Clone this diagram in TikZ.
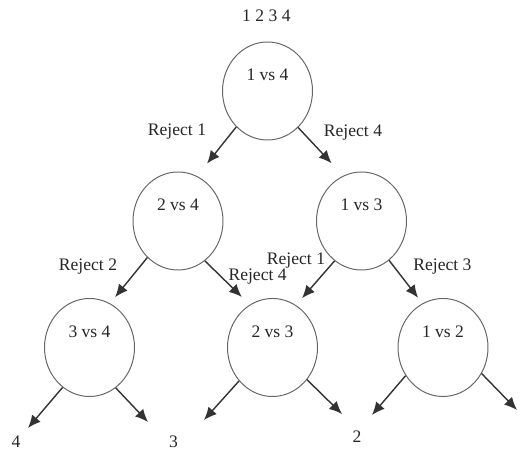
\documentclass[tikz,border=0pt]{standalone}
\usepackage{fontspec}
\setmainfont{Liberation Serif}
\usetikzlibrary{shapes.geometric,arrows.meta}

\begin{document}
\begin{tikzpicture}[
    font=\fontsize{12.5}{15}\selectfont,
    test/.style={ellipse, draw=black!60, line width=0.7pt, minimum width=2.25cm,
        minimum height=2.45cm, text depth=0.8cm, text=black!85},
    branch/.style={-{Latex[length=3.2mm,width=2.8mm]}, draw=black!80, line width=1pt},
    tag/.style={text=black!85}
]
\useasboundingbox (0,0) rectangle (13.125,11.3);

% elimination tree
\node[tag] (items) at (6.66,10.9) {1 2 3 4};
\node[test] (a) at (6.6875,9.025) {1 vs 4};
\node[test] (b) at (4.45,5.775) {2 vs 4};
\node[test] (c) at (9.0375,5.775) {1 vs 3};
\node[test] (d) at (2.2375,2.6125) {3 vs 4};
\node[test] (e) at (6.8125,2.6125) {2 vs 3};
\node[test] (f) at (11.075,2.6125) {1 vs 2};

\draw[branch, shorten >=0.4cm] (a.229) -- (b.67);
\draw[branch, shorten >=0.425cm] (a.310) -- (c.112);
\draw[branch, shorten >=0.2cm] (b.230) -- (d.65);
\draw[branch, shorten >=0.275cm] (b.304) -- (e.118);
\draw[branch, shorten >=0.23cm] (c.236) -- (e.61);
\draw[branch, shorten >=0.175cm] (c.305) -- (f.115);

\node[tag] (rej1a) at (4.425,8.0) {Reject 1};
\node[tag] (rej4a) at (8.825,7.975) {Reject 4};
\node[tag] (rej2) at (2.2,4.625) {Reject 2};
\node[tag] (rej4b) at (6.44,4.375) {Reject 4};
\node[tag] (rej1b) at (7.4,4.775) {Reject 1};
\node[tag] (rej3) at (11.06,4.625) {Reject 3};

% leaves
\coordinate (dl) at (0.7,0.6);
\coordinate (dr) at (3.7,0.75);
\coordinate (el) at (5.1,0.8);
\coordinate (er) at (8.55,0.95);
\coordinate (fl) at (9.3,0.925);
\coordinate (fr) at (12.925,1.05);
\foreach \from/\to in {d.236/dl, d.303/dr, e.225/el, e.317/er, f.217/fl, f.326/fr}
    \draw[branch] (\from) -- (\to);

\node[tag] (win4) at (0.4,0.25) {4};
\node[tag] (win3) at (4.34,0.25) {3};
\node[tag] (win2) at (8.925,0.375) {2};
\end{tikzpicture}
\end{document}
